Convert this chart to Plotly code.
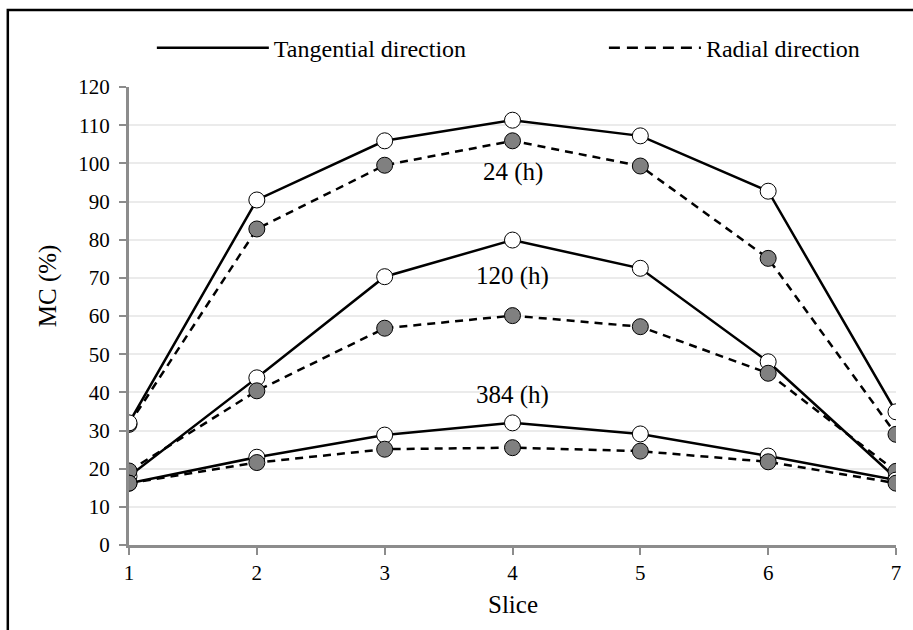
import plotly.graph_objects as go

# Moisture content (%) along the slices, per drying time and direction
slices = [1, 2, 3, 4, 5, 6, 7]
tangential_24h = [32.0, 90.4, 105.9, 111.3, 107.2, 92.7, 34.9]
radial_24h = [31.6, 82.8, 99.5, 105.9, 99.3, 75.1, 29.0]
tangential_120h = [18.0, 43.8, 70.3, 79.9, 72.5, 48.0, 17.5]
radial_120h = [19.4, 40.4, 56.8, 60.1, 57.2, 45.0, 19.3]
tangential_384h = [16.2, 23.0, 28.8, 32.0, 29.1, 23.3, 17.0]
radial_384h = [16.2, 21.6, 25.1, 25.5, 24.6, 21.8, 16.2]

time_labels = ["24 (h)", "120 (h)", "384 (h)"]
label_slice = [4, 4, 4]
label_mc = [97.8, 70.5, 39.3]

y_ticks = list(range(0, 121, 10))

FONT = "Liberation Serif, Times New Roman, serif"
AXIS_GREY = "#8c8c8c"
DASH = "8px,6px"

fig = go.Figure()

def add_series(values, radial):
    fig.add_trace(go.Scatter(
        x=slices, y=values, mode="lines+markers",
        line=dict(color="black", width=2.5, dash=DASH if radial else "solid"),
        marker=dict(size=16, color="#808080" if radial else "white",
                    line=dict(color="black", width=1)),
        showlegend=False, hoverinfo="skip",
    ))

add_series(radial_24h, True)
add_series(tangential_24h, False)
add_series(tangential_120h, False)
add_series(radial_120h, True)
add_series(tangential_384h, False)
add_series(radial_384h, True)

# legend-only entries, each in its own legend box
fig.add_trace(go.Scatter(x=[None], y=[None], mode="lines", name="Tangential direction",
                         line=dict(color="black", width=2.5), legend="legend"))
fig.add_trace(go.Scatter(x=[None], y=[None], mode="lines", name="Radial direction",
                         line=dict(color="black", width=2.5, dash="11px,7px"),
                         legend="legend2"))

for txt, xs, ys in zip(time_labels, label_slice, label_mc):
    fig.add_annotation(x=xs, y=ys, text=txt, showarrow=False,
                       font=dict(family=FONT, size=25, color="black"))

fig.add_annotation(xref="paper", yref="paper", x=-0.1056, y=0.565, text="MC (%)",
                   textangle=-90, showarrow=False, xanchor="center", yanchor="middle",
                   font=dict(family=FONT, size=25, color="black"))
fig.add_annotation(xref="paper", yref="paper", x=0.5, y=-0.13, text="Slice",
                   showarrow=False, yanchor="middle",
                   font=dict(family=FONT, size=25, color="black"))

# outer frame (left and top edges fall inside the page)
fig.add_shape(type="rect", xref="paper", yref="paper",
              x0=-0.158, x1=1.1, y0=-0.3, y1=1.168,
              line=dict(color="black", width=2.5), layer="below")

legend_common = dict(orientation="h", y=1.085, yanchor="middle", xanchor="left",
                     font=dict(family=FONT, size=24, color="black"),
                     bgcolor="rgba(0,0,0,0)")

fig.update_layout(
    width=913, height=630,
    margin=dict(l=129, r=12, t=87, b=85),
    paper_bgcolor="white", plot_bgcolor="white",
    font=dict(family=FONT, size=21, color="black"),
    legend=dict(x=(152 - 129) / 772, itemwidth=112, **legend_common),
    legend2=dict(x=(607 - 129) / 772, itemwidth=92, **legend_common),
    xaxis=dict(range=[1, 7], tickvals=slices, showgrid=False, zeroline=False,
               showline=True, linecolor=AXIS_GREY, linewidth=3,
               ticks="outside", tickcolor=AXIS_GREY, ticklen=7, tickwidth=2,
               ticklabelstandoff=0,
               tickfont=dict(family=FONT, size=21, color="black")),
    yaxis=dict(range=[0, 120], tickvals=y_ticks, showgrid=True, gridcolor="#ebebeb",
               gridwidth=1.5, zeroline=False,
               showline=True, linecolor=AXIS_GREY, linewidth=3,
               ticks="outside", tickcolor=AXIS_GREY, ticklen=7, tickwidth=2,
               ticklabelstandoff=5,
               tickfont=dict(family=FONT, size=21, color="black")),
)

fig.write_html("out.html")
